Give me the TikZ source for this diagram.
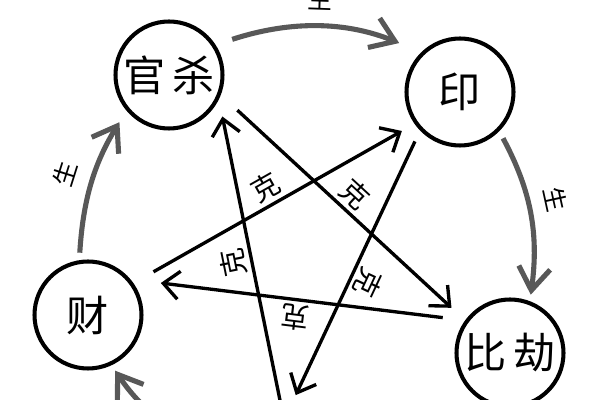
\documentclass[tikz,border=0pt]{standalone}
\usepackage{fontspec}
\newfontfamily\cjk{Noto Sans CJK SC}
\usetikzlibrary{arrows.meta}
\definecolor{shenggray}{RGB}{88,88,88}

\begin{document}
\begin{tikzpicture}[x=1cm,y=1cm]
\tikzset{
  elemnode/.style={circle,draw,line width=2.3pt,minimum size=2.14cm,inner sep=0pt,font=\cjk\fontsize{24}{28}\selectfont},
  ke/.style={-{Straight Barb[length=9pt,width=16pt]},line width=1.9pt},
  sheng/.style={-{Straight Barb[length=13pt,width=18pt]},line width=2.9pt,draw=shenggray},
  kelabel/.style={font=\cjk\fontsize{16}{18}\selectfont,inner sep=0.5pt,sloped,allow upside down,above=1.5pt},
  shenglabel/.style={font=\cjk\fontsize{14}{16}\selectfont,inner sep=0.5pt,sloped,above=8pt}
}
\path[use as bounding box,fill=white] (0,0) rectangle (12,-8);
\clip (0,0) rectangle (12,-8);
\node[elemnode] (n_gs) at (3.38,-1.50) {官\hspace{.15em}杀};
\node[elemnode] (n_yin) at (9.20,-1.84) {印};
\node[elemnode] (n_bj) at (10.20,-7.06) {比\hspace{.15em}劫};
\node[elemnode] (n_cai) at (1.76,-6.30) {财};
\coordinate (c_sx) at (5.68,-8.40);
\coordinate (c_sxl) at (4.66,-9.06);
\draw[sheng,shorten <=0.35cm,shorten >=0.48cm] (n_gs.33) to[bend left=20] node[shenglabel,midway] {生} (n_yin.134);
\draw[sheng,shorten <=0.16cm,shorten >=0.13cm] (n_yin.-45) to[bend left=18] node[shenglabel,pos=0.45] {生} (n_bj.69);
\draw[sheng,shorten <=0.15cm,shorten >=0.27cm] (n_cai.99) to[bend left=14] node[shenglabel,midway] {生} (n_gs.-140);
\draw[sheng,shorten >=0.13cm] (c_sxl) to[bend left=20] (n_cai.-65);
\draw[ke,shorten <=0.45cm,shorten >=0.37cm] (n_gs.-21) -- node[kelabel,midway] {克} (n_bj.144);
\draw[ke,shorten <=0.24cm,shorten >=0.55cm] (n_yin.-136) -- node[kelabel,midway] {克} (c_sx);
\draw[ke,shorten <=0.45cm,shorten >=0.61cm] (n_bj.144) -- node[kelabel,midway] {克} (n_cai.40);
\draw[ke,shorten <=0.46cm,shorten >=0.29cm] (n_cai.35) -- node[kelabel,midway] {克} (n_yin.-145);
\draw[ke,shorten >=0.35cm] (c_sx) -- node[kelabel,midway] {克} (n_gs.-26);
\end{tikzpicture}
\end{document}
